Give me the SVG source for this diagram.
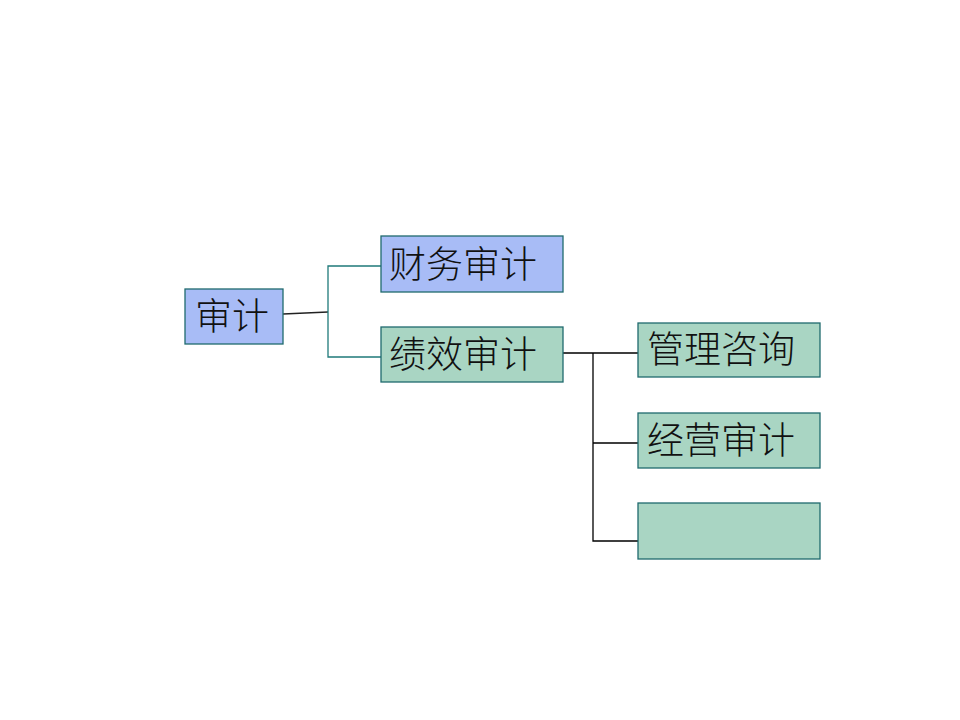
<svg xmlns="http://www.w3.org/2000/svg" width="960" height="720" viewBox="0 0 960 720">
<style>
.b{fill:#a8bcf6;stroke:#1f6a6e;stroke-width:1.3}
.g{fill:#a9d5c3;stroke:#1f6a6e;stroke-width:1.3}
.t{font-family:"Noto Sans CJK SC","Noto Sans",sans-serif;font-size:37px;font-weight:300;fill:#111}
.c{fill:none;stroke-width:1.3}
</style>
<rect width="960" height="720" fill="#fff"/>
<g id="connectors">
<path class="c" stroke="#222" d="M283 314 L328 312"/>
<path class="c" stroke="#1f7a7a" d="M381 266 H328 V357 H381"/>
<path class="c" stroke="#000" d="M563 353 H638 M593 353 V541 H638 M593 443 H638"/>
</g>
<g id="n1"><rect class="b" x="185" y="289" width="98" height="55"/><text class="t" x="195" y="330">审计</text></g>
<g id="n2"><rect class="b" x="381" y="236" width="182" height="56"/><text class="t" x="389" y="278">财务审计</text></g>
<g id="n3"><rect class="g" x="381" y="327" width="182" height="55"/><text class="t" x="389" y="368">绩效审计</text></g>
<g id="n4"><rect class="g" x="638" y="323" width="182" height="54"/><text class="t" x="647" y="363">管理咨询</text></g>
<g id="n5"><rect class="g" x="638" y="413" width="182" height="55"/><text class="t" x="647" y="454">经营审计</text></g>
<g id="n6"><rect class="g" x="638" y="503" width="182" height="56"/></g>
</svg>
